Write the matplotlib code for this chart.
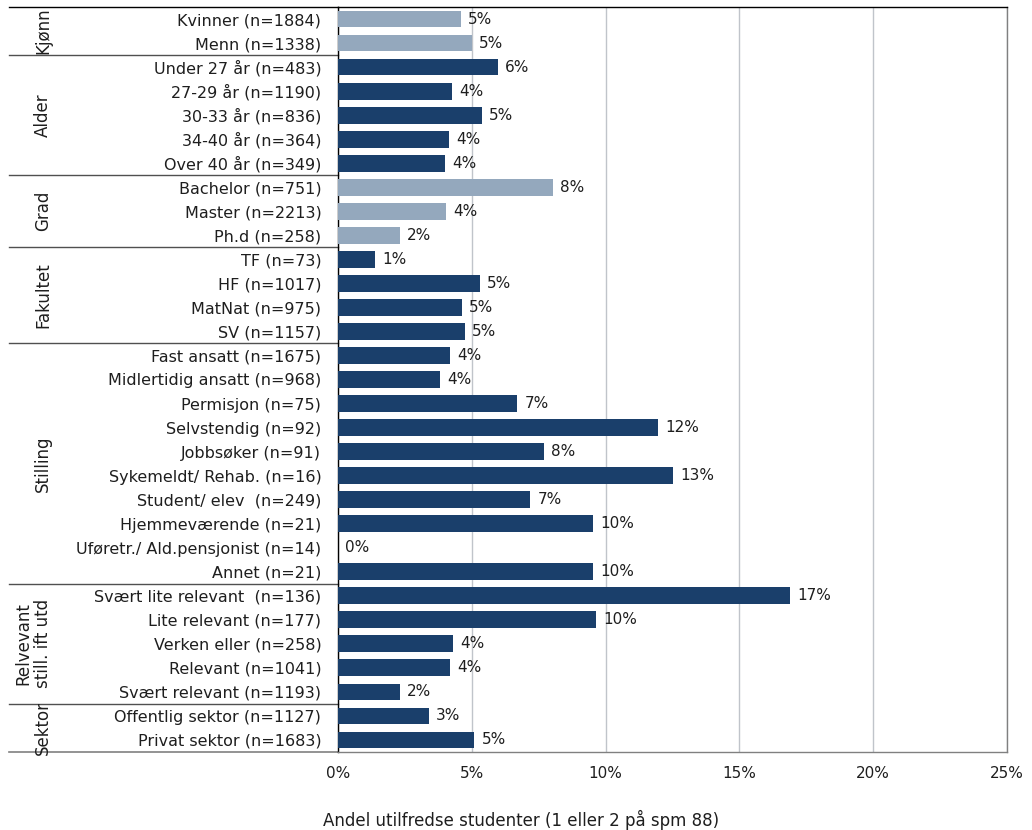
import matplotlib
matplotlib.use("Agg")
import matplotlib.pyplot as plt
import matplotlib.transforms as mtransforms

plt.rcParams['font.family'] = ['DejaVu Sans']

labels = [
    "Kvinner (n=1884)", "Menn (n=1338)",
    "Under 27 år (n=483)", "27-29 år (n=1190)", "30-33 år (n=836)",
    "34-40 år (n=364)", "Over 40 år (n=349)",
    "Bachelor (n=751)", "Master (n=2213)", "Ph.d (n=258)",
    "TF (n=73)", "HF (n=1017)", "MatNat (n=975)", "SV (n=1157)",
    "Fast ansatt (n=1675)", "Midlertidig ansatt (n=968)", "Permisjon (n=75)",
    "Selvstendig (n=92)", "Jobbsøker (n=91)", "Sykemeldt/ Rehab. (n=16)",
    "Student/ elev  (n=249)", "Hjemmeværende (n=21)",
    "Uføretr./ Ald.pensjonist (n=14)", "Annet (n=21)",
    "Svært lite relevant  (n=136)", "Lite relevant (n=177)",
    "Verken eller (n=258)", "Relevant (n=1041)", "Svært relevant (n=1193)",
    "Offentlig sektor (n=1127)", "Privat sektor (n=1683)",
]
values = [
    4.6, 5.0,
    5.98, 4.27, 5.38, 4.14, 4.0,
    8.03, 4.02, 2.32,
    1.39, 5.29, 4.62, 4.73,
    4.17, 3.80, 6.70, 11.96, 7.70, 12.52, 7.18, 9.52, 0.0, 9.52,
    16.9, 9.63, 4.28, 4.17, 2.32,
    3.39, 5.1,
]
groups = ["Kjønn", "Alder", "Grad", "Fakultet", "Stilling",
          "Relvevant\nstill. ift utd", "Sektor"]
group_sizes = [2, 5, 3, 4, 10, 5, 2]
light_groups = ["Kjønn", "Grad"]

dark = "#1A3F6B"
light = "#94A8BD"
txt = "#1E1E1E"

colors = []
for g, n in zip(groups, group_sizes):
    colors += [light if g in light_groups else dark] * n

fig = plt.figure(figsize=(10.32, 8.30), dpi=100)
ax = fig.add_axes([338 / 1032, 1 - 752 / 830, 669 / 1032, 745 / 830])

y = list(range(len(labels)))
ax.barh(y, values, height=0.7, color=colors, zorder=3)
for yi, v in zip(y, values):
    ax.text(v + 0.27, yi, f"{v:.0f}%", va="center", ha="left",
            fontsize=11, color=txt, zorder=4)

ax.set_xlim(0, 25)
ax.set_ylim(len(labels) - 0.5, -0.5)
ax.set_yticks(y)
ax.set_yticklabels(labels, fontsize=11.5, color=txt)
ax.set_xticks([0, 5, 10, 15, 20, 25])
ax.set_xticklabels(["0%", "5%", "10%", "15%", "20%", "25%"], fontsize=11,
                   color=txt)
ax.tick_params(axis="both", length=0)
ax.tick_params(axis="y", pad=12)
ax.tick_params(axis="x", pad=10)
ax.grid(axis="x", color="#C0C4CA", linewidth=1, zorder=0)

ax.spines["left"].set_color("black")
ax.spines["right"].set_color("#808080")
ax.spines["top"].set_color("black")
ax.spines["bottom"].set_color("#808080")
for s in ax.spines.values():
    s.set_linewidth(1)

# group separators and labels on the left
trans = mtransforms.blended_transform_factory(ax.transAxes, ax.transData)
x_left = (9 - 338) / 669
ax.plot([x_left, 0], [-0.5, -0.5], transform=trans, color="black",
        lw=1, clip_on=False)
ax.plot([x_left, 0], [len(labels) - 0.5, len(labels) - 0.5], transform=trans,
        color="#808080", lw=1.2, clip_on=False)
start = 0
for g, n in zip(groups, group_sizes):
    end = start + n
    if end < len(labels):
        ax.plot([x_left, 0], [end - 0.5, end - 0.5], transform=trans,
                color="#505050", lw=1, clip_on=False)
    cy = start + (n - 1) / 2
    xg = (33 - 338) / 669 if "\n" in g else (43 - 338) / 669
    ax.text(xg, cy, g, transform=trans, rotation=90, ha="center",
            va="center", fontsize=12, multialignment="center",
            linespacing=1.15, color=txt)
    start = end

fig.text(521 / 1032, 1 - 820 / 830, "Andel utilfredse studenter (1 eller 2 på spm 88)",
         ha="center", va="center", fontsize=12, color=txt)

fig.savefig("out.png", dpi=100)
